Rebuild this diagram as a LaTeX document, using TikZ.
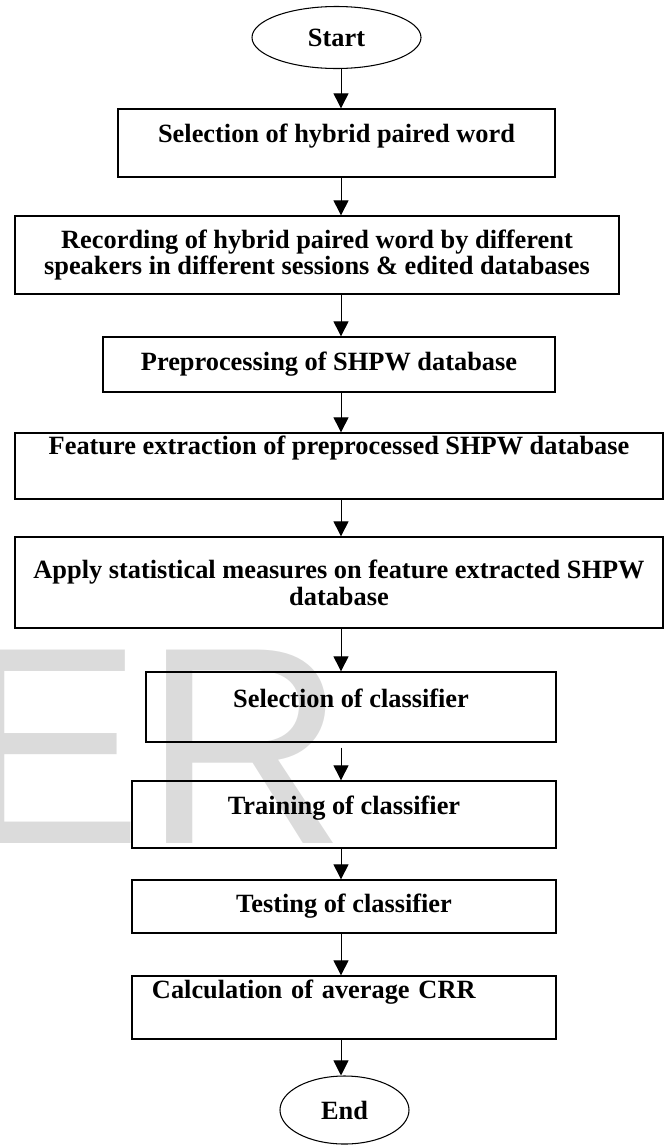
\documentclass[tikz,border=0pt]{standalone}
\usepackage{fontspec}
\usepackage{tikz}
\usetikzlibrary{positioning,shapes.geometric,arrows.meta}
\setmainfont{Liberation Serif}
\newfontfamily\wmfont{Liberation Sans}
\definecolor{wmgray}{gray}{0.86}

\begin{document}
\begin{tikzpicture}[x=0.03cm, y=-0.03cm, >={Triangle[length=0.45cm,width=0.45cm]},
  block/.style={rectangle, draw, line width=1.1pt, inner xsep=0pt, inner ysep=1pt, align=center},
  term/.style={ellipse, draw, line width=0.9pt, inner sep=0pt},
  lifted/.style={text depth=#1},
  arrow/.style={->, line width=0.8pt},
  font=\fontsize{22.5}{23}\selectfont\bfseries]

  \useasboundingbox (0,0) rectangle (666,1146);

  % Watermark
  \node[anchor=base west, inner sep=0pt, text=wmgray, font=\wmfont\fontsize{240}{240}\selectfont] (wm) at (-44.5,843) {ER};

  % Nodes
  \node[term, minimum width=5.07cm, minimum height=1.86cm] (start) at (336.5,37.5) {Start};
  \node[block, minimum width=13.11cm, minimum height=2.04cm, lifted=0.61cm] (selword) at (336.5,143) {Selection of hybrid paired word};
  \node[block, minimum width=18.12cm, minimum height=2.34cm] (record) at (317,255) {Recording of hybrid paired word by different\\speakers in different sessions \& edited databases};
  \node[block, minimum width=13.56cm, minimum height=1.65cm] (preproc) at (329,364.5) {Preprocessing of SHPW database};
  \node[block, minimum width=19.44cm, minimum height=1.98cm, lifted=1.27cm] (feature) at (339,466) {Feature extraction of preprocessed SHPW database};
  \node[block, minimum width=19.44cm, minimum height=2.73cm] (stats) at (339,582.5) {Apply statistical measures on feature extracted SHPW\\database};
  \node[block, minimum width=12.3cm, minimum height=2.1cm, lifted=0.55cm] (selclf) at (351,707) {Selection of classifier};
  \node[block, minimum width=12.72cm, minimum height=2.01cm, lifted=0.55cm] (train) at (344,814.5) {Training of classifier};
  \node[block, minimum width=12.72cm, minimum height=1.59cm] (test) at (344,906.5) {Testing of classifier};
  \node[block, minimum width=12.72cm, minimum height=1.89cm, lifted=1.09cm, text width=11.52cm, align=left] (calc) at (344,1007.5) {Calculation of average CRR};
  \node[term, minimum width=3.87cm, minimum height=2.04cm] (end) at (344.5,1110) {End};

  % Paths / Edges
  \coordinate (axis) at (341,0);
  \draw[arrow] (start.south -| axis) -- (selword.north -| axis);
  \draw[arrow] (selword.south -| axis) -- (record.north -| axis);
  \draw[arrow] (record.south -| axis) -- (preproc.north -| axis);
  \draw[arrow] (preproc.south -| axis) -- (feature.north -| axis);
  \draw[arrow] (feature.south -| axis) -- (stats.north -| axis);
  \draw[arrow] (stats.south -| axis) -- (selclf.north -| axis);
  \draw[arrow, shorten <=0.15cm] (selclf.south -| axis) -- (train.north -| axis);
  \draw[arrow] (train.south -| axis) -- (test.north -| axis);
  \draw[arrow] (test.south -| axis) -- (calc.north -| axis);
  \draw[arrow] (calc.south -| axis) -- (end.north -| axis);

\end{tikzpicture}
\end{document}
